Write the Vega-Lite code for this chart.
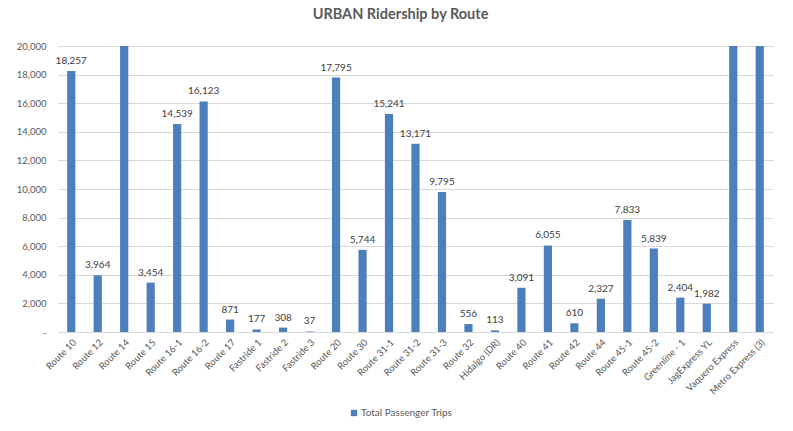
{
  "$schema": "https://vega.github.io/schema/vega-lite/v6.json",
  "autosize": {"type": "none"},
  "width": 715,
  "height": 286,
  "padding": {"left": 58, "top": 46, "right": 20, "bottom": 99},
  "background": "white",
  "title": {
    "text": "URBAN Ridership by Route",
    "font": "Lato",
    "fontSize": 14.5,
    "fontWeight": "bold",
    "color": "#595959",
    "anchor": "middle",
    "dx": -15,
    "offset": 19
  },
  "config": {
    "view": {"stroke": null},
    "font": "Lato"
  },
  "data": {
    "values": [
      {"route": "Route 10", "trips": 18257},
      {"route": "Route 12", "trips": 3964},
      {"route": "Route 14", "trips": 24000},
      {"route": "Route 15", "trips": 3454},
      {"route": "Route 16-1", "trips": 14539},
      {"route": "Route 16-2", "trips": 16123},
      {"route": "Route 17", "trips": 871},
      {"route": "Fastride 1", "trips": 177},
      {"route": "Fastride 2", "trips": 308},
      {"route": "Fastride 3", "trips": 37},
      {"route": "Route 20", "trips": 17795},
      {"route": "Route 30", "trips": 5744},
      {"route": "Route 31-1", "trips": 15241},
      {"route": "Route 31-2", "trips": 13171},
      {"route": "Route 31-3", "trips": 9795},
      {"route": "Route 32", "trips": 556},
      {"route": "Hidalgo (DR)", "trips": 113},
      {"route": "Route 40", "trips": 3091},
      {"route": "Route 41", "trips": 6055},
      {"route": "Route 42", "trips": 610},
      {"route": "Route 44", "trips": 2327},
      {"route": "Route 45-1", "trips": 7833},
      {"route": "Route 45-2", "trips": 5839},
      {"route": "Greenline - 1", "trips": 2404},
      {"route": "JagExpress YL", "trips": 1982},
      {"route": "Vaquero Express", "trips": 24000},
      {"route": "Metro Express (3)", "trips": 24000}
    ]
  },
  "encoding": {
    "x": {
      "field": "route",
      "type": "nominal",
      "sort": null,
      "title": null,
      "scale": {"paddingInner": 0.69, "paddingOuter": 0.345},
      "axis": {
        "labelAngle": -45,
        "labelAlign": "right",
        "labelBaseline": "top",
        "labelFontSize": 9.5,
        "labelColor": "#595959",
        "labelPadding": 5,
        "ticks": false,
        "domainColor": "#d9d9d9",
        "domainWidth": 1.2
      }
    },
    "y": {
      "field": "trips",
      "type": "quantitative",
      "title": null,
      "scale": {"domain": [0, 20000], "nice": false},
      "axis": {
        "values": [0, 2000, 4000, 6000, 8000, 10000, 12000, 14000, 16000, 18000, 20000],
        "labelExpr": "datum.value == 0 ? '-' : format(datum.value, ',')",
        "labelFontSize": 9.5,
        "labelColor": "#595959",
        "labelPadding": 12,
        "ticks": false,
        "domain": false,
        "gridColor": "#d9d9d9",
        "gridWidth": 1
      }
    }
  },
  "layer": [
    {
      "mark": {"type": "bar", "clip": true, "color": "#4e7fbd"},
      "encoding": {
        "color": {
          "datum": "Total Passenger Trips",
          "type": "nominal",
          "scale": {"range": ["#4e7fbd"]},
          "legend": {
            "title": null,
            "orient": "none",
            "legendX": 291,
            "legendY": 362,
            "symbolType": "square",
            "symbolSize": 40,
            "symbolStrokeWidth": 0,
            "labelFontSize": 10,
            "labelColor": "#595959",
            "labelOffset": 2
          }
        }
      }
    },
    {
      "transform": [{"filter": "datum.trips <= 20000"}],
      "mark": {"type": "text", "baseline": "bottom", "dy": -5, "fontSize": 10, "color": "#404040"},
      "encoding": {
        "text": {"field": "trips", "type": "quantitative", "format": ","}
      }
    }
  ]
}
